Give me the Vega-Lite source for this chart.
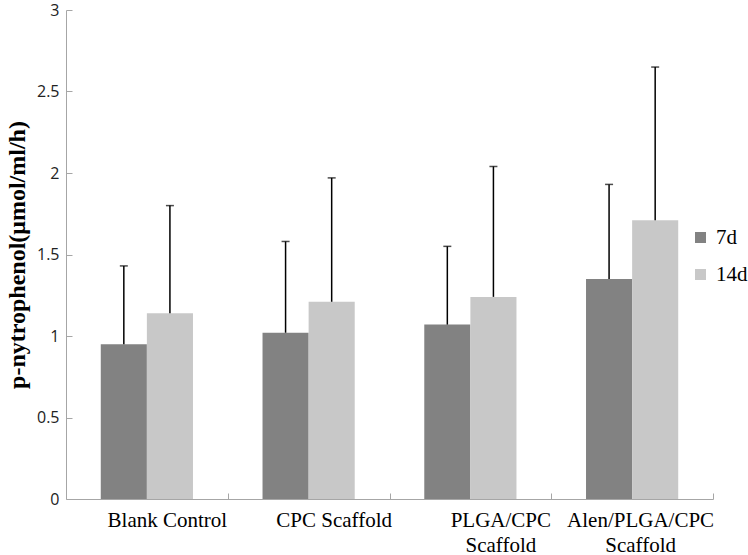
{
  "$schema": "https://vega.github.io/schema/vega-lite/v6.json",
  "width": 647,
  "height": 489,
  "autosize": "none",
  "padding": {"left": 66, "top": 10, "right": 35, "bottom": 56},
  "background": "white",
  "config": {"view": {"stroke": null}, "legend": {"labelFont": "Liberation Serif"}},
  "data": {
    "values": [
      {"group": "Blank Control", "period": "7d", "value": 0.95, "err": 1.43},
      {"group": "Blank Control", "period": "14d", "value": 1.14, "err": 1.80},
      {"group": "CPC Scaffold", "period": "7d", "value": 1.02, "err": 1.58},
      {"group": "CPC Scaffold", "period": "14d", "value": 1.21, "err": 1.97},
      {"group": "PLGA/CPC Scaffold", "period": "7d", "value": 1.07, "err": 1.55},
      {"group": "PLGA/CPC Scaffold", "period": "14d", "value": 1.24, "err": 2.04},
      {"group": "Alen/PLGA/CPC Scaffold", "period": "7d", "value": 1.35, "err": 1.93},
      {"group": "Alen/PLGA/CPC Scaffold", "period": "14d", "value": 1.71, "err": 2.65}
    ]
  },
  "encoding": {
    "x": {
      "field": "group",
      "type": "nominal",
      "sort": null,
      "scale": {"paddingInner": 0.43, "paddingOuter": 0.215},
      "axis": {
        "title": null,
        "labelAngle": 0,
        "domainColor": "#a6a6a6",
        "tickColor": "#a6a6a6",
        "tickSize": -6,
        "tickOffset": 80.9,
        "labelOffset": {
          "condition": [
            {"test": "datum.value === 'Alen/PLGA/CPC Scaffold'", "value": -72.9},
            {"test": "datum.value === 'PLGA/CPC Scaffold'", "value": -50.9},
            {"test": "datum.value === 'CPC Scaffold'", "value": -55.9}
          ],
          "value": -60.9
        },
        "labelPadding": 16,
        "labelFont": "Liberation Serif",
        "labelFontSize": 21,
        "labelColor": "#000000",
        "labelLineHeight": 25,
        "labelExpr": "datum.label == 'PLGA/CPC Scaffold' ? ['PLGA/CPC', 'Scaffold'] : datum.label == 'Alen/PLGA/CPC Scaffold' ? ['Alen/PLGA/CPC', 'Scaffold'] : datum.label"
      }
    },
    "xOffset": {"field": "period", "type": "nominal", "sort": ["7d", "14d"], "scale": {"paddingInner": 0, "paddingOuter": 0}}
  },
  "layer": [
    {
      "mark": {"type": "bar"},
      "encoding": {
        "y": {
          "field": "value",
          "type": "quantitative",
          "scale": {"domain": [0, 3], "nice": false},
          "axis": {
            "title": "p-nytrophenol(μmol/ml/h)",
            "titleFont": "Liberation Serif",
            "titleFontSize": 24,
            "titleFontWeight": "bold",
            "titleColor": "#000000",
            "titlePadding": 7,
            "values": [0, 0.5, 1, 1.5, 2, 2.5, 3],
            "format": "~g",
            "grid": false,
            "domainColor": "#a6a6a6",
            "tickColor": "#a6a6a6",
            "tickSize": -6,
            "labelFont": "Open Sans",
            "labelFontSize": 16,
            "labelColor": "#222222",
            "labelPadding": 13
          }
        },
        "color": {
          "field": "period",
          "type": "nominal",
          "sort": ["7d", "14d"],
          "scale": {"domain": ["7d", "14d"], "range": ["#828282", "#c8c8c8"]},
          "legend": {
            "title": null,
            "orient": "none",
            "legendX": 624,
            "legendY": 217,
            "symbolType": "square",
            "symbolSize": 121,
            "symbolStrokeWidth": 0,
            "labelFont": "Liberation Serif",
            "labelFontSize": 21,
            "labelColor": "#000000",
            "labelOffset": 5,
            "rowPadding": 15,
            "padding": 0
          }
        }
      }
    },
    {
      "mark": {"type": "rule", "color": "#000000", "strokeWidth": 1.5},
      "encoding": {
        "y": {"field": "value", "type": "quantitative"},
        "y2": {"field": "err"}
      }
    },
    {
      "mark": {"type": "tick", "color": "#000000", "thickness": 1.5, "size": 8},
      "encoding": {
        "y": {"field": "err", "type": "quantitative"}
      }
    }
  ]
}
